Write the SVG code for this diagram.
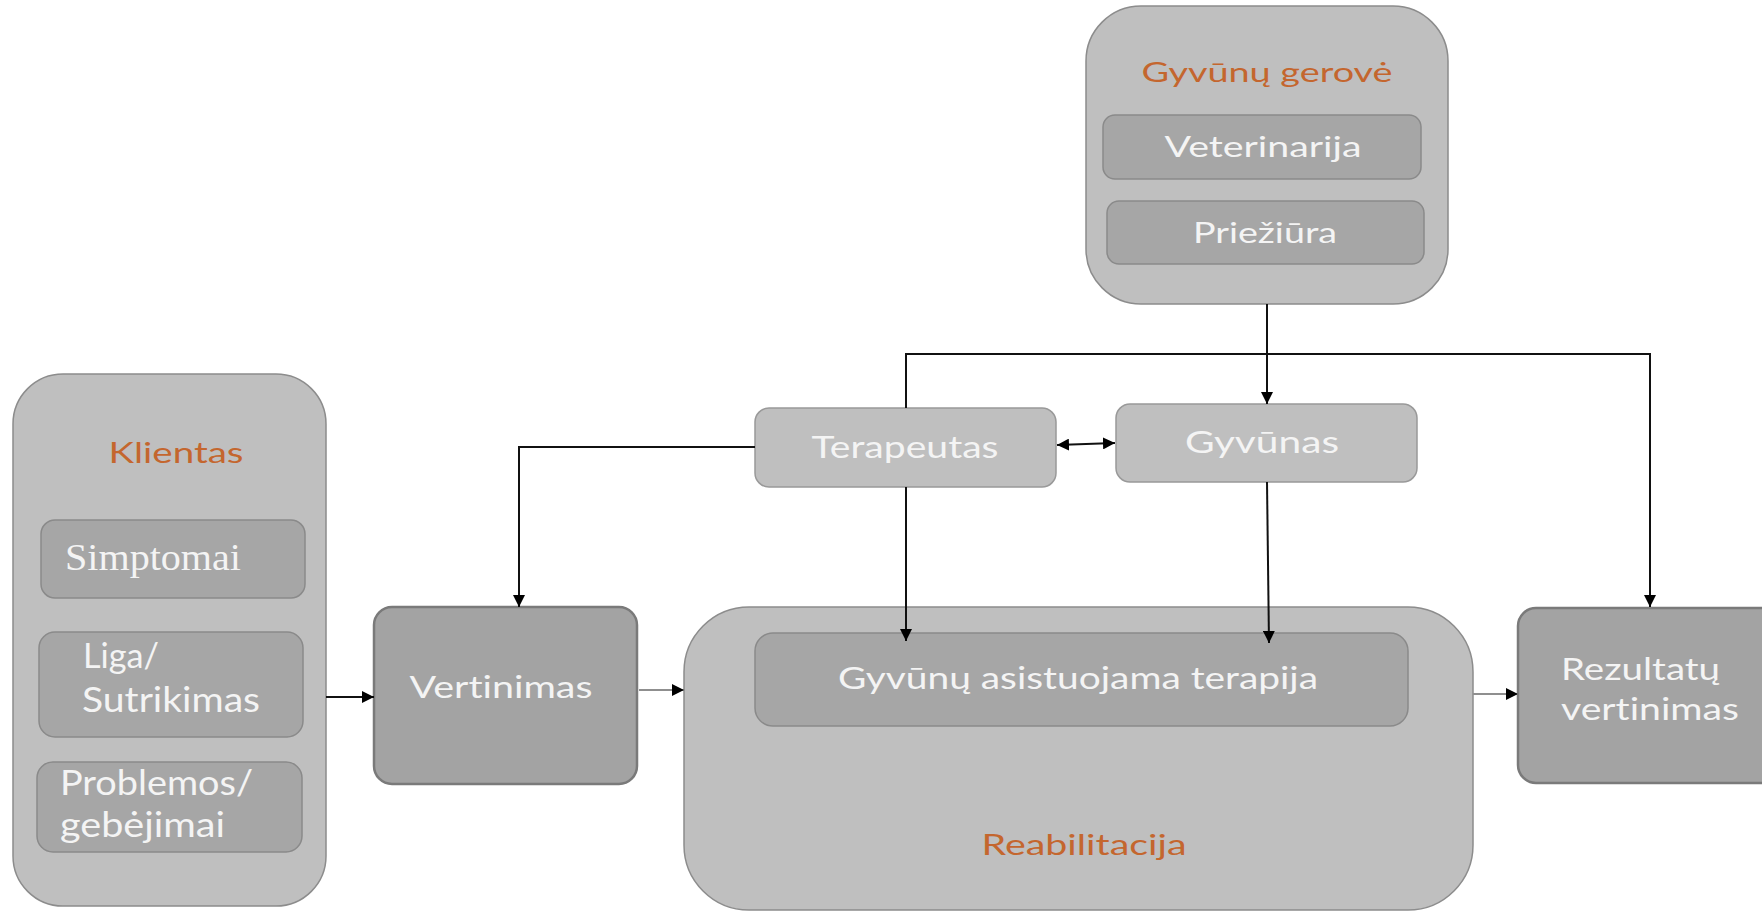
<svg xmlns="http://www.w3.org/2000/svg" width="1762" height="912" viewBox="0 0 1762 912">
<style>
.outer{fill:#bfbfbf;stroke:#8c8c8c;stroke-width:1.5}
.inner{fill:#a6a6a6;stroke:#8a8a8a;stroke-width:1.5}
.step{fill:#a3a3a3;stroke:#7a7a7a;stroke-width:2.5}
.small{fill:#bfbfbf;stroke:#999999;stroke-width:1.5}
.t{font-family:Lato,"Liberation Sans",sans-serif;fill:#f4f4f4;font-variant-ligatures:none}
.title{font-family:Lato,"Liberation Sans",sans-serif;fill:#c4662e;font-variant-ligatures:none}
.serif{font-family:"Liberation Serif",serif;fill:#f4f4f4}
.conn{fill:none;stroke:#111111;stroke-width:2}
.conn-gray{fill:none;stroke:#8f8f8f;stroke-width:2}
</style>
<defs>
<marker id="arr" markerUnits="userSpaceOnUse" markerWidth="13" markerHeight="12" refX="12" refY="6" orient="auto-start-reverse">
<path d="M0,0 L12,6 L0,12 z" fill="#000"/>
</marker>
</defs>
<rect width="1762" height="912" fill="#ffffff"/>

<g id="gyvunu-gerove">
<rect class="outer" x="1086" y="6" width="362" height="298" rx="55"/>
<text class="title" x="1267" y="82" font-size="27" text-anchor="middle" textLength="251" lengthAdjust="spacingAndGlyphs">Gyvūnų gerovė</text>
<rect class="inner" x="1103" y="115" width="318" height="64" rx="12"/>
<text class="t" x="1263" y="157" font-size="29" text-anchor="middle" textLength="197" lengthAdjust="spacingAndGlyphs">Veterinarija</text>
<rect class="inner" x="1107" y="201" width="317" height="63" rx="12"/>
<text class="t" x="1265" y="243" font-size="29" text-anchor="middle" textLength="144" lengthAdjust="spacingAndGlyphs">Priežiūra</text>
</g>

<g id="klientas">
<rect class="outer" x="13" y="374" width="313" height="532" rx="50"/>
<text class="title" x="176" y="463" font-size="28" text-anchor="middle" textLength="135" lengthAdjust="spacingAndGlyphs">Klientas</text>
<rect class="inner" x="41" y="520" width="264" height="78" rx="14"/>
<text class="serif" x="65" y="570" font-size="37" textLength="176" lengthAdjust="spacingAndGlyphs">Simptomai</text>
<rect class="inner" x="39" y="632" width="264" height="105" rx="16"/>
<text class="t" x="83" y="668" font-size="34" textLength="76" lengthAdjust="spacingAndGlyphs">Liga/</text>
<text class="t" x="82" y="712" font-size="34" textLength="178" lengthAdjust="spacingAndGlyphs">Sutrikimas</text>
<rect class="inner" x="37" y="762" width="265" height="90" rx="16"/>
<text class="t" x="60" y="795" font-size="34" textLength="193" lengthAdjust="spacingAndGlyphs">Problemos/</text>
<text class="t" x="60" y="837" font-size="34" textLength="165" lengthAdjust="spacingAndGlyphs">gebėjimai</text>
</g>

<g id="vertinimas">
<rect class="step" x="374" y="607" width="263" height="177" rx="18"/>
<text class="t" x="501" y="698" font-size="30" text-anchor="middle" textLength="183" lengthAdjust="spacingAndGlyphs">Vertinimas</text>
</g>

<g id="terapeutas">
<rect class="small" x="755" y="408" width="301" height="79" rx="14"/>
<text class="t" x="905" y="458" font-size="31" text-anchor="middle" textLength="187" lengthAdjust="spacingAndGlyphs">Terapeutas</text>
</g>

<g id="gyvunas">
<rect class="small" x="1116" y="404" width="301" height="78" rx="14"/>
<text class="t" x="1262" y="453" font-size="31" text-anchor="middle" textLength="154" lengthAdjust="spacingAndGlyphs">Gyvūnas</text>
</g>

<g id="reabilitacija">
<rect class="outer" x="684" y="607" width="789" height="303" rx="65"/>
<text class="title" x="1084" y="855" font-size="29" text-anchor="middle" textLength="205" lengthAdjust="spacingAndGlyphs">Reabilitacija</text>
</g>

<g id="gyvunu-asistuojama-terapija">
<rect class="inner" x="755" y="633" width="653" height="93" rx="18"/>
<text class="t" x="1078" y="689" font-size="30" text-anchor="middle" textLength="480" lengthAdjust="spacingAndGlyphs">Gyvūnų asistuojama terapija</text>
</g>

<g id="rezultatu-vertinimas">
<rect class="step" x="1518" y="608" width="300" height="175" rx="18"/>
<text class="t" x="1561" y="680" font-size="30" textLength="159" lengthAdjust="spacingAndGlyphs">Rezultatų</text>
<text class="t" x="1561" y="720" font-size="30" textLength="178" lengthAdjust="spacingAndGlyphs">vertinimas</text>
</g>

<g id="connectors">
<path class="conn" d="M1267 304 V404" marker-end="url(#arr)"/>
<path class="conn" d="M906 408 V354 H1650 V607" marker-end="url(#arr)"/>
<path class="conn" d="M755 447 H519 V607" marker-end="url(#arr)"/>
<path class="conn" d="M906 487 V641" marker-end="url(#arr)"/>
<path class="conn" d="M1267 482 L1269 643" marker-end="url(#arr)"/>
<path class="conn" d="M1057 445 L1115 443" marker-start="url(#arr)" marker-end="url(#arr)"/>
<path class="conn" d="M326 697 H374" marker-end="url(#arr)"/>
<path class="conn-gray" d="M639 690 H684" marker-end="url(#arr)"/>
<path class="conn-gray" d="M1473 694 H1518" marker-end="url(#arr)"/>
</g>
</svg>
